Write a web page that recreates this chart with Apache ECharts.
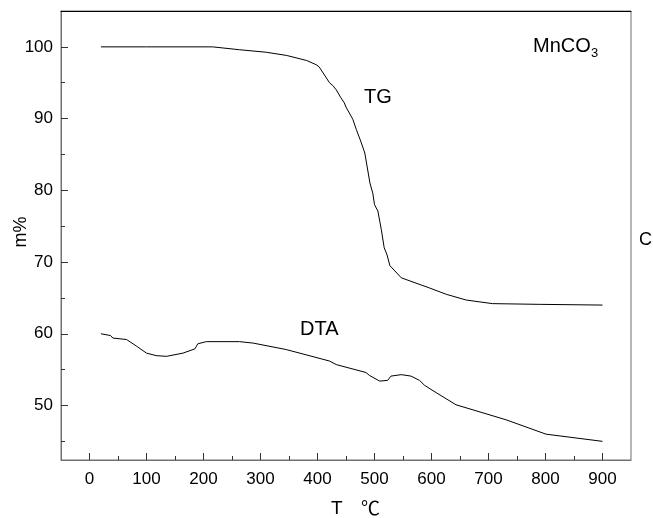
<!DOCTYPE html>
<html>
<head>
<meta charset="utf-8">
<script src="https://cdn.jsdelivr.net/npm/echarts@6/dist/echarts.min.js"></script>
<style>
  html, body { margin: 0; padding: 0; background: #fff; }
  #chart { width: 653px; height: 518px; }
</style>
</head>
<body>
<div id="chart"></div>
<script>
  // TG curve, [T (°C), m %]
  var tgData = [
    [20, 100], [100, 100], [216, 100], [263, 99.6], [310, 99.25], [346, 98.8],
    [381, 98.1], [398, 97.5], [403, 97.2], [421, 95.0], [427, 94.6], [433, 94.0],
    [441, 92.9], [447, 92.2], [450, 91.6], [462, 89.9], [468, 88.5], [477, 86.6],
    [483, 85.2], [486, 83.8], [492, 81.0], [497, 79.6], [500, 78.0], [506, 77.1],
    [512, 74.5], [517, 72.0], [522, 71.0], [527, 69.5], [547, 67.8], [596, 66.4],
    [626, 65.5], [661, 64.7], [707, 64.2], [790, 64.1], [900, 64.0]
  ];
  // DTA curve, same axes
  var dtaData = [
    [20, 60.0], [37, 59.75], [41, 59.4], [65, 59.2], [82, 58.3], [100, 57.3],
    [117, 56.95], [135, 56.85], [164, 57.3], [185, 57.9], [190, 58.6], [205, 58.9],
    [263, 58.9], [287, 58.7], [345, 57.8], [421, 56.2], [433, 55.7], [485, 54.6],
    [491, 54.2], [509, 53.4], [523, 53.5], [529, 54.1], [547, 54.3], [564, 54.1],
    [579, 53.5], [588, 52.8], [608, 51.8], [643, 50.1], [731, 48.0], [801, 46.0],
    [900, 45.0]
  ];
  var xMajor = [0, 100, 200, 300, 400, 500, 600, 700, 800, 900];
  var xMinor = [50, 150, 250, 350, 450, 550, 650, 750, 850];
  var yMajor = [50, 60, 70, 80, 90, 100];
  var yMinor = [45, 55, 65, 75, 85, 95];

  var font = "'Liberation Sans', Arial, Helvetica, sans-serif";
  var axisColor = '#707070';

  var chart = echarts.init(document.getElementById('chart'));
  var option = {
    animation: false,
    backgroundColor: '#fff',
    grid: {
      left: 61, right: 22, top: 11, bottom: 58,
      containLabel: false,
      outerBoundsMode: 'none',
      show: true,
      borderColor: axisColor,
      borderWidth: 1
    },
    xAxis: [
      {
        type: 'value', min: -50, max: 950,
        splitLine: {show: false},
        axisLine: {onZero: false, lineStyle: {color: axisColor, width: 1}},
        axisTick: {inside: true, length: 7, customValues: xMajor, lineStyle: {color: '#333'}},
        axisLabel: {customValues: xMajor, color: '#000', fontSize: 17, fontFamily: font, margin: 11}
      },
      {
        type: 'value', min: -50, max: 950, position: 'bottom',
        splitLine: {show: false},
        axisLine: {show: false, onZero: false},
        axisTick: {inside: true, length: 4, customValues: xMinor, lineStyle: {color: '#333'}},
        axisLabel: {show: false}
      },
      {
        type: 'value', min: -50, max: 950, position: 'top',
        splitLine: {show: false},
        axisLine: {onZero: false, lineStyle: {color: '#000', width: 1}},
        axisTick: {show: false},
        axisLabel: {show: false}
      }
    ],
    yAxis: [
      {
        type: 'value', min: 42.4, max: 105,
        splitLine: {show: false},
        axisLine: {show: true, onZero: false, lineStyle: {color: axisColor, width: 1}},
        axisTick: {inside: true, length: 7, customValues: yMajor, lineStyle: {color: '#333'}},
        axisLabel: {customValues: yMajor, color: '#000', fontSize: 17, fontFamily: font, margin: 8}
      },
      {
        type: 'value', min: 42.4, max: 105, position: 'left',
        splitLine: {show: false},
        axisLine: {show: false, onZero: false},
        axisTick: {inside: true, length: 4, customValues: yMinor, lineStyle: {color: '#333'}},
        axisLabel: {show: false}
      }
    ],
    graphic: [
      {type: 'text', x: 21, y: 232, rotation: Math.PI / 2,
        style: {text: 'm%', fill: '#000', font: '18px ' + font, align: 'center', verticalAlign: 'middle'}},
      {type: 'text', left: 533, top: 36, style: {text: 'MnCO', fill: '#000', font: '20px ' + font}},
      {type: 'text', left: 591, top: 47, style: {text: '3', fill: '#000', font: '13px ' + font}},
      {type: 'text', left: 364, top: 87, style: {text: 'TG', fill: '#000', font: '20px ' + font}},
      {type: 'text', left: 300, top: 319, style: {text: 'DTA', fill: '#000', font: '20px ' + font}},
      {type: 'text', left: 331, top: 499, style: {text: 'T', fill: '#000', font: '19px ' + font}},
      {type: 'text', left: 361, top: 498, style: {text: '℃', fill: '#000', font: "19px 'Noto Sans CJK SC', 'DejaVu Serif'"}},
      {type: 'text', left: 639, top: 231, style: {text: 'C', fill: '#000', font: '18px ' + font}}
    ],
    series: [
      {
        name: 'TG', type: 'line', data: tgData,
        showSymbol: false, smooth: false,
        lineStyle: {color: '#000', width: 1}
      },
      {
        name: 'DTA', type: 'line', data: dtaData,
        showSymbol: false, smooth: false,
        lineStyle: {color: '#000', width: 1}
      }
    ]
  };
  chart.setOption(option);
</script>
</body>
</html>
